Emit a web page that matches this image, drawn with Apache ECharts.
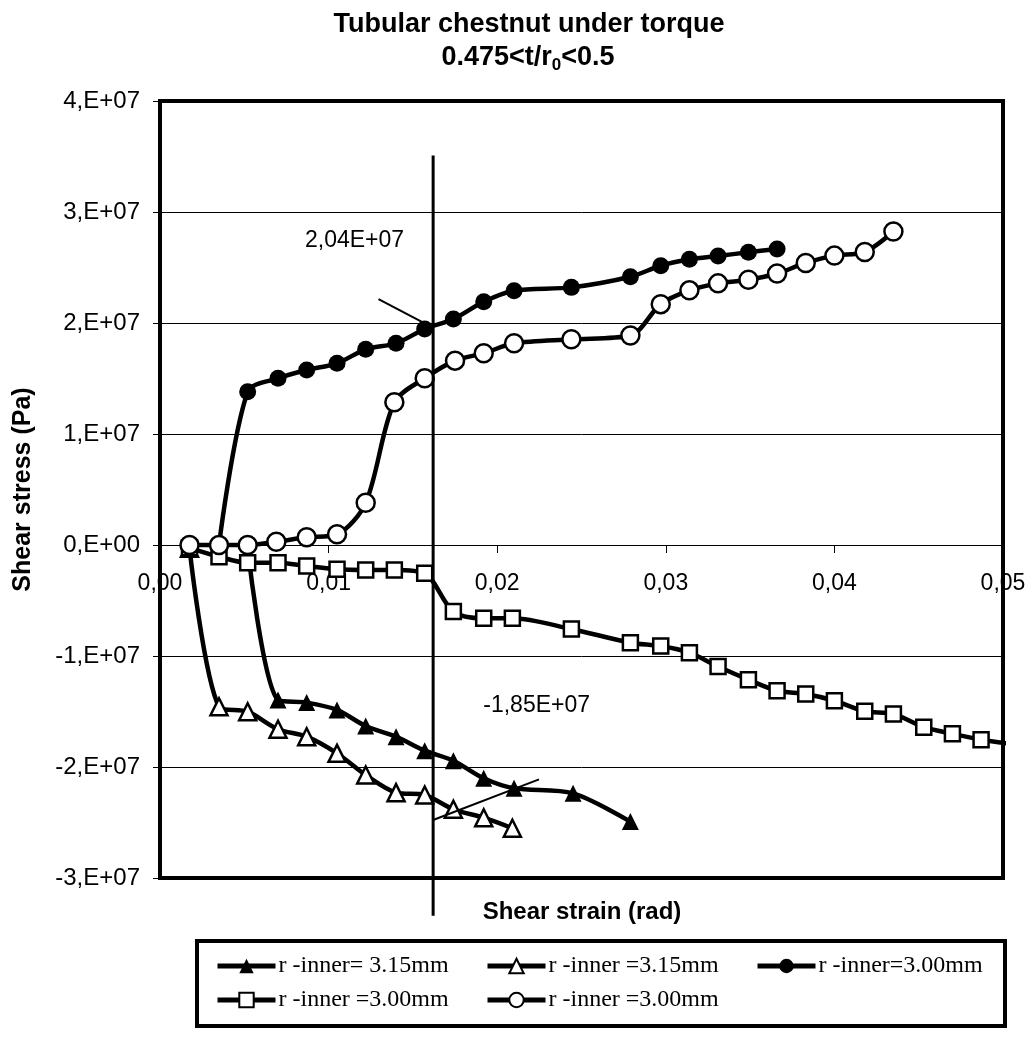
<!DOCTYPE html>
<html><head><meta charset="utf-8">
<script src="https://cdn.jsdelivr.net/npm/echarts@6/dist/echarts.min.js"></script>
<style>html,body{margin:0;padding:0;background:#fff}#c{width:1032px;height:1037px}</style>
</head><body><div id="c"></div><script>
// ---- data (shear strain in rad, shear stress in Pa) ----
const ftName = 'r -inner= 3.15mm';
const ftX = [0.0052, 0.0070, 0.0087, 0.0105, 0.0122, 0.0140, 0.0157, 0.0174, 0.0192, 0.0210, 0.0245, 0.0279];
const ftY = [-0.03e7, -1.396e7, -1.42e7, -1.486e7, -1.631e7, -1.727e7, -1.853e7, -1.943e7, -2.102e7, -2.192e7, -2.237e7, -2.492e7];

const otName = 'r -inner =3.15mm';
const otX = [0.00175, 0.0035, 0.0052, 0.0070, 0.0087, 0.0105, 0.0122, 0.0140, 0.0157, 0.0174, 0.0192, 0.0209];
const otY = [-0.03e7, -1.457e7, -1.502e7, -1.66e7, -1.727e7, -1.877e7, -2.072e7, -2.231e7, -2.252e7, -2.381e7, -2.457e7, -2.552e7];

const fcName = 'r -inner=3.00mm';
const fcX = [0.0035, 0.0052, 0.0070, 0.0087, 0.0105, 0.0122, 0.0140, 0.0157, 0.0174, 0.0192, 0.0210, 0.0244, 0.0279, 0.0297, 0.0314, 0.0331, 0.0349, 0.0366];
const fcY = [0, 1.381e7, 1.502e7, 1.577e7, 1.637e7, 1.763e7, 1.817e7, 1.946e7, 2.036e7, 2.192e7, 2.291e7, 2.321e7, 2.417e7, 2.516e7, 2.574e7, 2.604e7, 2.637e7, 2.667e7];

const sqName = 'r -inner =3.00mm';
const sqX = [0.00175, 0.0035, 0.0052, 0.0070, 0.0087, 0.0105, 0.0122, 0.0139, 0.0157, 0.0174, 0.0192, 0.0209, 0.0244, 0.0279, 0.0297, 0.0314, 0.0331, 0.0349, 0.0366, 0.0383, 0.0400, 0.0418, 0.0435, 0.0453, 0.0470, 0.0487, 0.0509];
const sqY = [-0.025e7, -0.105e7, -0.159e7, -0.159e7, -0.189e7, -0.219e7, -0.225e7, -0.225e7, -0.255e7, -0.60e7, -0.66e7, -0.66e7, -0.757e7, -0.88e7, -0.91e7, -0.97e7, -1.095e7, -1.214e7, -1.313e7, -1.342e7, -1.403e7, -1.498e7, -1.522e7, -1.641e7, -1.701e7, -1.754e7, -1.80e7];

const ocName = 'r -inner =3.00mm';
const ocX = [0.00175, 0.0035, 0.0052, 0.0069, 0.0087, 0.0105, 0.0122, 0.0139, 0.0157, 0.0175, 0.0192, 0.0210, 0.0244, 0.0279, 0.0297, 0.0314, 0.0331, 0.0349, 0.0366, 0.0383, 0.0400, 0.0418, 0.0435];
const ocY = [0, 0, 0, 0.03e7, 0.069e7, 0.096e7, 0.38e7, 1.286e7, 1.502e7, 1.661e7, 1.727e7, 1.817e7, 1.853e7, 1.887e7, 2.17e7, 2.294e7, 2.357e7, 2.39e7, 2.446e7, 2.541e7, 2.607e7, 2.64e7, 2.824e7];

// annotation lines (drawn on the chart)
const vLineX = [0.0162, 0.0162];
const vLineY = [3.51e7, -3.34e7];
const arrowUpX = [0.01296, 0.0161];
const arrowUpY = [2.216e7, 1.966e7];
const arrowLowX = [0.0162, 0.02248];
const arrowLowY = [-2.477e7, -2.111e7];
const noteTexts = ['2,04E+07', '-1,85E+07'];
const noteX = [0.01154, 0.02234];
const noteY = [2.74e7, -1.45e7];

// axis ticks
const xTickValues = [0, 0.01, 0.02, 0.03, 0.04, 0.05];
const xTickLabels = ['0,00', '0,01', '0,02', '0,03', '0,04', '0,05'];
const yTickValues = [-3e7, -2e7, -1e7, 0, 1e7, 2e7, 3e7, 4e7];
const yTickLabels = ['-3,E+07', '-2,E+07', '-1,E+07', '0,E+00', '1,E+07', '2,E+07', '3,E+07', '4,E+07'];

const SANS = 'Liberation Sans, Arial, sans-serif';
const SERIF = 'Liberation Serif, Times New Roman, serif';

function pairs(xs, ys) { return xs.map((x, i) => [x, ys[i]]); }
function lab(vals, labels, v) {
  for (let i = 0; i < vals.length; i++) if (Math.abs(vals[i] - v) < Math.abs(vals[1] - vals[0]) * 1e-6) return labels[i];
  return '';
}

function dataSeries(id, name, xs, ys, symbol, filled, size, extra) {
  return Object.assign({
    id: id, name: name, type: 'line', data: pairs(xs, ys),
    symbol: symbol, symbolSize: size, showSymbol: true,
    smooth: 0.3,
    lineStyle: { color: '#000', width: 4.5 },
    itemStyle: { color: filled ? '#000' : '#fff', borderColor: '#000', borderWidth: filled ? 0 : 2.5 },
    emphasis: { disabled: true },
    animation: false
  }, extra || {});
}

const ftData = pairs(ftX, ftY);
ftData[0] = { value: ftData[0], symbol: 'none' };
const sqData = pairs(sqX, sqY);
sqData[sqData.length - 1] = { value: sqData[sqData.length - 1], symbol: 'none' };

const series = [
  dataSeries('ft', ftName, ftX, ftY, 'triangle', true, 17, { data: ftData }),
  dataSeries('ot', otName, otX, otY, 'triangle', false, 17),
  dataSeries('fc', fcName, fcX, fcY, 'circle', true, 17),
  dataSeries('sq', sqName + '#sq', sqX, sqY, 'rect', false, 15, { data: sqData, clip: false }),
  dataSeries('oc', ocName + '#oc', ocX, ocY, 'circle', false, 18),
  { type: 'line', name: 'vline', data: pairs(vLineX, vLineY), symbol: 'none', clip: false, z: 5,
    lineStyle: { color: '#000', width: 3 }, animation: false, silent: true },
  { type: 'line', name: 'a1', data: pairs(arrowUpX, arrowUpY), symbol: 'none', z: 5,
    lineStyle: { color: '#000', width: 2 }, animation: false, silent: true },
  { type: 'line', name: 'a2', data: pairs(arrowLowX, arrowLowY), symbol: 'none', z: 5,
    lineStyle: { color: '#000', width: 2 }, animation: false, silent: true }
];

const legendNames = [ftName, otName, fcName, sqName + '#sq', ocName + '#oc'];
const legendPos = [[215, 954], [485, 954], [755, 954], [215, 988], [485, 988]];
const legends = legendNames.map((n, i) => ({
  data: [n], left: legendPos[i][0], top: legendPos[i][1], padding: 0,
  itemWidth: 58, itemHeight: 18, itemGap: 0, selectedMode: false,
  lineStyle: { width: 5, color: '#000' },
  formatter: (name) => name.replace(/#.*$/, ''),
  textStyle: { fontFamily: SERIF, fontSize: 24, color: '#000', padding: [0, 0, 0, -2] }
}));

const GRID_TOP = 101, GRID_BOTTOM = 159, CHART_H = 1037;
const yMin = -3e7, yMax = 4e7;
// move the x axis (line, ticks, labels) up to the y = 0 level
const plotH = CHART_H - GRID_TOP - GRID_BOTTOM;
const zeroOffset = -plotH * (0 - yMin) / (yMax - yMin);

const staticGraphic = [
  { type: 'text', x: 529, y: 25, style: { text: 'Tubular chestnut under torque', fontSize: 27, fontWeight: 'bold', fontFamily: SANS, fill: '#000', align: 'center', verticalAlign: 'middle' } },
  { type: 'text', x: 528, y: 58, style: {
      text: '{a|0.475<t/r}{s|0}{a|<0.5}', align: 'center', verticalAlign: 'middle',
      rich: {
        a: { fontSize: 27, fontWeight: 'bold', fontFamily: SANS, fill: '#000', lineHeight: 32, verticalAlign: 'middle' },
        s: { fontSize: 17, fontWeight: 'bold', fontFamily: SANS, fill: '#000', lineHeight: 17, verticalAlign: 'bottom' }
      } } },
  { type: 'text', x: 582, y: 912, style: { text: 'Shear strain (rad)', fontSize: 24, fontWeight: 'bold', fontFamily: SANS, fill: '#000', align: 'center', verticalAlign: 'middle' } },
  { type: 'rect', shape: { x: 197, y: 941, width: 808, height: 85 }, style: { fill: 'none', stroke: '#000', lineWidth: 4 }, z: -1 }
];

const option = {
  backgroundColor: '#fff',
  animation: false,
  grid: { left: 160, right: 29, top: GRID_TOP, bottom: GRID_BOTTOM, show: true, borderColor: '#000', borderWidth: 4, containLabel: false },
  xAxis: {
    type: 'value', min: 0, max: 0.05, interval: 0.01,
    position: 'bottom', offset: zeroOffset,
    axisLine: { show: true, onZero: false, lineStyle: { color: '#000', width: 1 } },
    axisTick: { show: true, inside: false, length: 8, lineStyle: { color: '#000', width: 1 } },
    axisLabel: { margin: 27, fontSize: 23, fontFamily: SANS, color: '#000', formatter: (v) => lab(xTickValues, xTickLabels, v) },
    splitLine: { show: false }
  },
  yAxis: {
    type: 'value', min: yMin, max: yMax, interval: 1e7,
    name: 'Shear stress (Pa)', nameLocation: 'middle', nameGap: 124,
    nameTextStyle: { fontSize: 25, fontWeight: 'bold', fontFamily: SANS, color: '#000' },
    axisLine: { show: true, onZero: false, lineStyle: { color: '#000', width: 1 } },
    axisTick: { show: true, inside: false, length: 7, lineStyle: { color: '#000', width: 1 } },
    axisLabel: { margin: 20, fontSize: 24, fontFamily: SANS, color: '#000', formatter: (v) => lab(yTickValues, yTickLabels, v) },
    splitLine: { show: true, lineStyle: { color: '#000', width: 1 } }
  },
  legend: legends,
  graphic: staticGraphic,
  series: series
};

const chart = echarts.init(document.getElementById('c'), null, { renderer: 'canvas' });
chart.setOption(option);

// annotation texts placed at data coordinates through the chart's own scales
const noteGraphic = noteTexts.map((t, i) => {
  const p = chart.convertToPixel({ gridIndex: 0 }, [noteX[i], noteY[i]]);
  return { type: 'text', x: p[0], y: p[1], z: 10,
    style: { text: t, fontSize: 23, fontFamily: SANS, fill: '#000', align: 'center', verticalAlign: 'middle' } };
});
chart.setOption({ graphic: staticGraphic.concat(noteGraphic) });
</script></body></html>
